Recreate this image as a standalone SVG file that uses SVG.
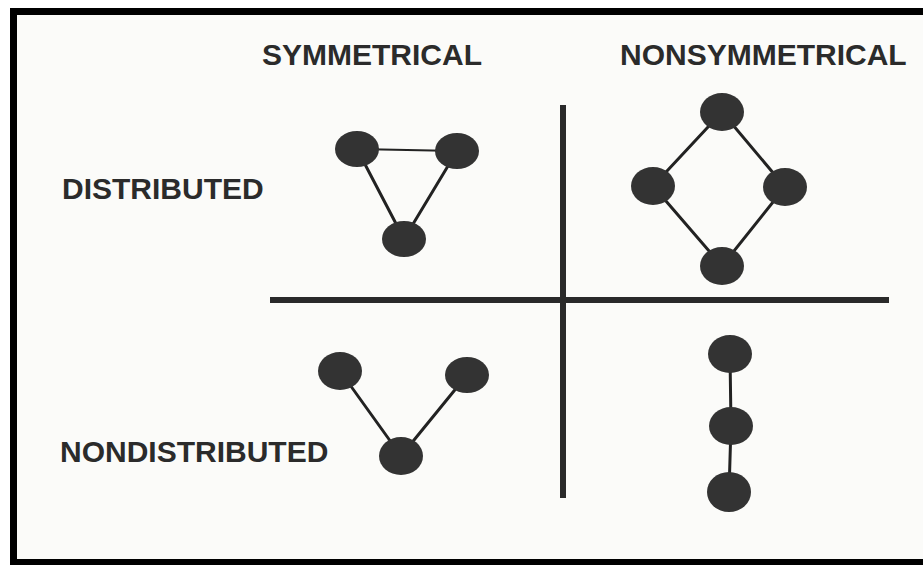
<svg xmlns="http://www.w3.org/2000/svg" width="923" height="565" viewBox="0 0 923 565">
  <style>
    .label { font-family: "Liberation Sans", Arial, sans-serif; font-weight: bold; font-size: 30px; fill: #2b2b2b; }
    .node { fill: #333333; }
    .edge { stroke: #222222; stroke-width: 3; stroke-linecap: round; }
    .thin { stroke-width: 2; }
    .divider { stroke: #2a2a2a; stroke-width: 6; }
  </style>
  <!-- page and frame -->
  <rect x="0" y="0" width="923" height="565" fill="#ffffff"/>
  <rect x="10" y="8" width="913" height="557" fill="#000000"/>
  <rect x="17" y="15" width="906" height="544" fill="#fbfbf9"/>

  <!-- column and row headings -->
  <g id="headings">
    <text class="label" x="262" y="65">SYMMETRICAL</text>
    <text class="label" x="620" y="65">NONSYMMETRICAL</text>
    <text class="label" x="62" y="199">DISTRIBUTED</text>
    <text class="label" x="60" y="462">NONDISTRIBUTED</text>
  </g>

  <!-- quadrant dividers -->
  <g id="dividers">
    <line class="divider" x1="563" y1="105" x2="563" y2="498"/>
    <line class="divider" x1="270" y1="300" x2="889" y2="300"/>
  </g>

  <!-- connectors -->
  <g id="connectors">
    <!-- triangle -->
    <line class="edge thin" x1="357" y1="149" x2="457" y2="151"/>
    <line class="edge" x1="357" y1="149" x2="404" y2="239"/>
    <line class="edge" x1="457" y1="151" x2="404" y2="239"/>
    <!-- diamond -->
    <line class="edge" x1="722" y1="112" x2="653" y2="186"/>
    <line class="edge" x1="722" y1="112" x2="785" y2="187"/>
    <line class="edge" x1="653" y1="186" x2="722" y2="266"/>
    <line class="edge" x1="785" y1="187" x2="722" y2="266"/>
    <!-- V -->
    <line class="edge" x1="340" y1="371" x2="401" y2="456"/>
    <line class="edge" x1="467" y1="375" x2="401" y2="456"/>
    <!-- chain -->
    <line class="edge" x1="730" y1="354" x2="731" y2="426"/>
    <line class="edge" x1="731" y1="426" x2="729" y2="492"/>
  </g>

  <!-- symmetrical distributed: triangle -->
  <g id="tri-a"><ellipse class="node" cx="357" cy="149" rx="22" ry="18"/></g>
  <g id="tri-b"><ellipse class="node" cx="457" cy="151" rx="22" ry="18"/></g>
  <g id="tri-c"><ellipse class="node" cx="404" cy="239" rx="22" ry="18"/></g>

  <!-- nonsymmetrical distributed: diamond -->
  <g id="dia-top"><ellipse class="node" cx="722" cy="112" rx="22" ry="19"/></g>
  <g id="dia-left"><ellipse class="node" cx="653" cy="186" rx="22" ry="19"/></g>
  <g id="dia-right"><ellipse class="node" cx="785" cy="187" rx="22" ry="19"/></g>
  <g id="dia-bottom"><ellipse class="node" cx="722" cy="266" rx="22" ry="19"/></g>

  <!-- symmetrical nondistributed: V -->
  <g id="v-left"><ellipse class="node" cx="340" cy="371" rx="22" ry="19"/></g>
  <g id="v-right"><ellipse class="node" cx="467" cy="375" rx="22" ry="18"/></g>
  <g id="v-bottom"><ellipse class="node" cx="401" cy="456" rx="22" ry="19"/></g>

  <!-- nonsymmetrical nondistributed: chain -->
  <g id="chain-top"><ellipse class="node" cx="730" cy="354" rx="22" ry="19"/></g>
  <g id="chain-mid"><ellipse class="node" cx="731" cy="426" rx="22" ry="19"/></g>
  <g id="chain-bottom"><ellipse class="node" cx="729" cy="492" rx="22" ry="20"/></g>
</svg>
